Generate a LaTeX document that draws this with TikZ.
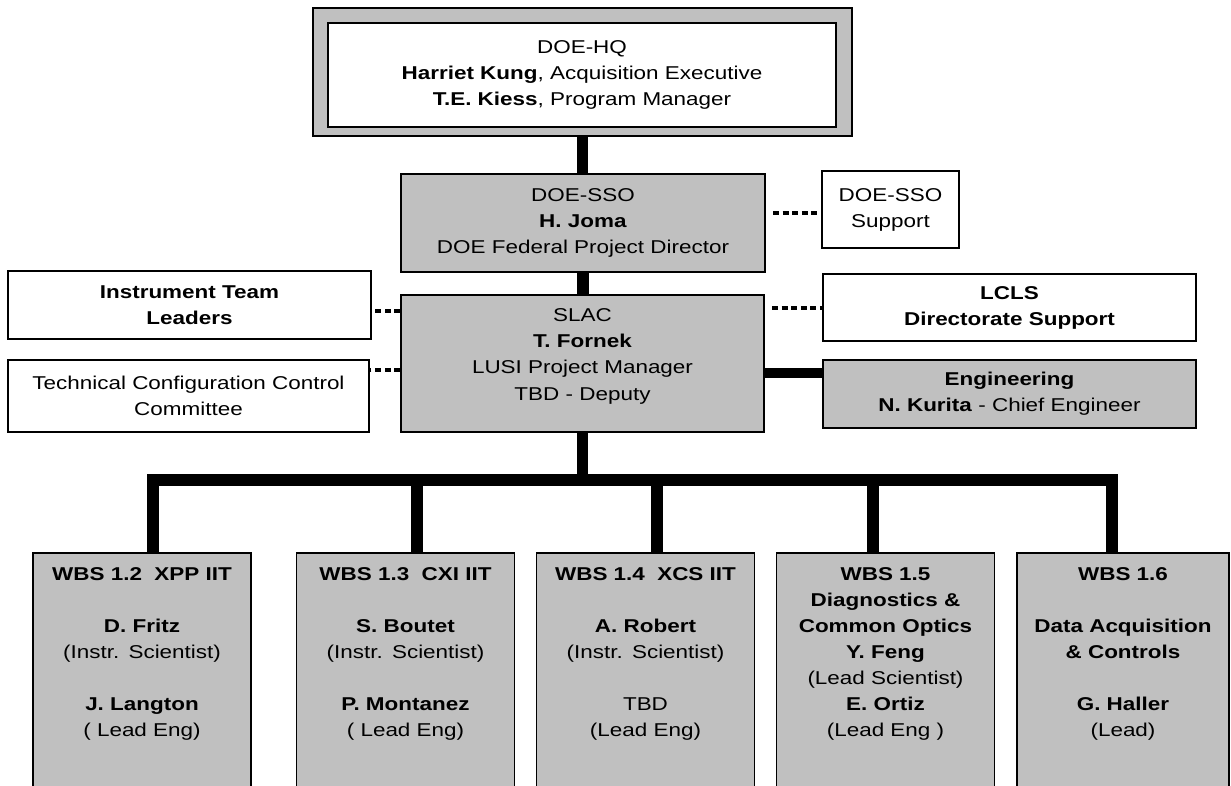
\documentclass[tikz,border=0pt]{standalone}
\usepackage{fontspec}
\setmainfont{Liberation Sans}[FakeStretch=1.21]
\usepackage{tikz}
\definecolor{boxgray}{RGB}{192,192,192}

\begin{document}
\begin{tikzpicture}[
  x=0.025cm, y=-0.025cm,
  font=\fontsize{13.2}{18.5}\selectfont,
  orgbox/.style={rectangle, draw, line width=1.1pt, inner sep=0pt, align=center},
  graybox/.style={orgbox, fill=boxgray},
  whitebox/.style={orgbox, fill=white},
  wbsbox/.style={graybox, anchor=north, text width=5.45cm, inner ysep=0.36cm, text depth=7cm},
  trunk/.style={line width=0.28cm},
  liaison/.style={line width=0.1cm, dash pattern=on 0.15cm off 0.09cm},
]
  \useasboundingbox (0,0) rectangle (1231,785);
  \clip (0,0) rectangle (1231,785);

  % top of the chart
  \node[graybox, minimum width=13.475cm, minimum height=3.2cm] (hqframe) at (582.5,72) {};
  \node[whitebox, minimum width=12.7cm, minimum height=2.6cm] (hq) at (582,75)
    {DOE-HQ\\\textbf{Harriet Kung}, Acquisition Executive\\\textbf{T.E. Kiess}, Program Manager};
  \node[graybox, minimum width=9.1cm, minimum height=2.45cm] (sso) at (583,223)
    {DOE-SSO\\\textbf{H. Joma}\\DOE Federal Project Director};
  \node[whitebox, minimum width=3.425cm, minimum height=1.925cm] (ssosup) at (890.5,209.5)
    {DOE-SSO\\Support};
  \node[graybox, minimum width=9.075cm, minimum height=3.425cm, text depth=0.45cm] (slac) at (582.5,363.5)
    {SLAC\\\textbf{T. Fornek}\\LUSI Project Manager\\TBD - Deputy};

  % side boxes
  \node[whitebox, minimum width=9.075cm, minimum height=1.7cm] (itl) at (189.5,305)
    {\textbf{Instrument Team}\\\textbf{Leaders}};
  \node[whitebox, minimum width=9.025cm, minimum height=1.8cm] (tccc) at (188.5,396)
    {Technical Configuration Control\\Committee};
  \node[whitebox, minimum width=9.325cm, minimum height=1.675cm] (lcls) at (1009.5,307.5)
    {\textbf{LCLS}\\\textbf{Directorate Support}};
  \node[graybox, minimum width=9.325cm, minimum height=1.7cm] (eng) at (1009.5,394)
    {\textbf{Engineering}\\\textbf{N. Kurita} - Chief Engineer};

  % WBS boxes
  \node[wbsbox] (wbs12) at (142,552)
    {\textbf{WBS 1.2~~XPP IIT}\\[\baselineskip]\textbf{D. Fritz}\\(Instr. Scientist)\\[\baselineskip]\textbf{J. Langton}\\( Lead Eng)};
  \node[wbsbox] (wbs13) at (405.5,552)
    {\textbf{WBS 1.3~~CXI IIT}\\[\baselineskip]\textbf{S. Boutet}\\(Instr. Scientist)\\[\baselineskip]\textbf{P. Montanez}\\( Lead Eng)};
  \node[wbsbox] (wbs14) at (645.5,552)
    {\textbf{WBS 1.4~~XCS IIT}\\[\baselineskip]\textbf{A. Robert}\\(Instr. Scientist)\\[\baselineskip]TBD\\(Lead Eng)};
  \node[wbsbox] (wbs15) at (885.5,552)
    {\textbf{WBS 1.5}\\\textbf{Diagnostics \&}\\\textbf{Common Optics}\\\textbf{Y. Feng}\\(Lead Scientist)\\\textbf{E. Ortiz}\\(Lead Eng )};
  \node[wbsbox, text width=5.3cm] (wbs16) at (1123,552)
    {\textbf{WBS 1.6}\\[\baselineskip]\textbf{Data Acquisition}\\\textbf{\& Controls}\\[\baselineskip]\textbf{G. Haller}\\(Lead)};

  % solid lines
  \draw[trunk] (hqframe.south) -- (hqframe.south |- sso.north);
  \draw[trunk] (sso.south) -- (sso.south |- slac.north);
  \draw[trunk, line width=0.25cm] (slac.-3) -- (slac.-3 -| eng.west);

  \foreach \n/\x in {12/153, 13/417, 14/657, 15/873, 16/1112}
    \coordinate (bus\n) at (\x,480);
  \draw[trunk] (slac.south) -- (slac.south |- bus12);
  \draw[trunk] (bus12 |- wbs12.north) -- (bus12) -- (bus16) -- (bus16 |- wbs16.north);
  \foreach \n in {13,14,15}
    \draw[trunk] (bus\n) -- (bus\n |- wbs\n.north);

  % dotted lines
  \draw[liaison, shorten <=0.18cm] (sso.3.5) -- (sso.3.5 -| ssosup.west);
  \draw[liaison, shorten <=0.18cm] (slac.17.6) -- (slac.17.6 -| lcls.west);
  \draw[liaison] (slac.164.5) -- (slac.164.5 -| itl.east);
  \draw[liaison] (slac.182.4) -- (slac.182.4 -| tccc.east);
\end{tikzpicture}
\end{document}
